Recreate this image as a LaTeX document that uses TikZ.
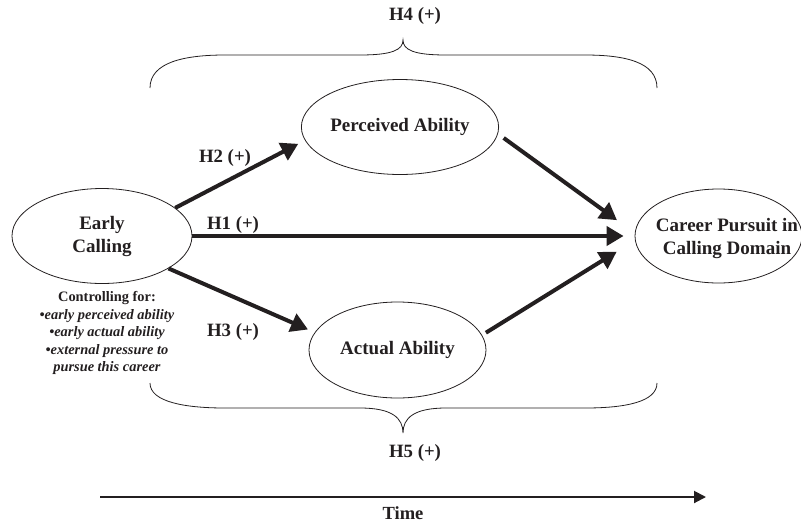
\documentclass[tikz,border=0pt]{standalone}
\usepackage{fontspec}
\setmainfont{Liberation Serif}
\usetikzlibrary{arrows.meta,shapes.geometric}
\definecolor{ink}{HTML}{231F20}
\begin{document}
\begin{tikzpicture}[x=1pt,y=-1pt,
  var/.style={draw=ink, ellipse, line width=0.8pt, inner sep=0pt, align=center,
    font=\fontsize{19}{23}\selectfont\bfseries, text=ink},
  vartext/.style={inner sep=0pt, align=center, font=\fontsize{19}{23}\selectfont\bfseries, text=ink},
  hpath/.style={line width=4pt, draw=ink, -{Triangle[length=17pt,width=19pt]}},
  hyp/.style={font=\fontsize{18.8}{22}\selectfont\bfseries, text=ink, inner sep=0pt},
  brace/.style={draw=ink, line width=0.8pt}]
\useasboundingbox (0,0) rectangle (801,523);

% variables
\node[var, minimum width=180pt, minimum height=95pt] (early) at (102,236) {Early\\Calling};
\node[var, minimum width=176pt, minimum height=95pt] (perc) at (400,127) {Perceived Ability};
\node[var, minimum width=177pt, minimum height=96pt] (act) at (397.5,350) {Actual Ability};
\node[var, minimum width=167pt, minimum height=94pt] (career) at (718.5,236) {};
\node[vartext] (careertext) at (727,238.5) {Career Pursuit in\\Calling Domain};

% controls
\node[inner sep=0pt, align=center, text=ink, font=\fontsize{14.4}{17.5}\selectfont\bfseries] (ctrl) at (107,333)
  {Controlling for:\\\textit{•early perceived ability}\\\textit{•early actual ability}\\\textit{•external pressure to}\\\textit{pursue this career}};

% paths
\draw[hpath, shorten >=7.5pt] (early.21) -- (perc.188);
\draw[hpath, shorten >=11pt] (early.east) -- (career.west);
\draw[hpath, shorten >=7.3pt] (early.-26) -- (act.168);
\draw[hpath, shorten <=7pt, shorten >=22pt] (perc.-4) -- (career.178);
\draw[hpath, shorten <=4.5pt, shorten >=21.5pt] (act.10.6) -- (career.183.4);

% hypothesis labels
\node[hyp] (h2) at (225,158) {H2 (+)};
\node[hyp] (h1) at (233,225) {H1 (+)};
\node[hyp] (h3) at (233,332) {H3 (+)};
\node[hyp] (h4) at (415,16) {H4 (+)};
\node[hyp] (h5) at (415,453) {H5 (+)};

% braces
\draw[brace] (150,88) .. controls (150,62) and (185,55) .. (225,55) -- (360,55)
  .. controls (392,55) and (403,50) .. (403,40)
  .. controls (403,50) and (414,55) .. (446,55) -- (585,55)
  .. controls (625,55) and (657,62) .. (657,88);
\draw[brace] (150,383) .. controls (150,402) and (185,408) .. (225,408) -- (360,408)
  .. controls (392,408) and (403,418) .. (403,433)
  .. controls (403,418) and (414,408) .. (446,408) -- (585,408)
  .. controls (625,408) and (657,402) .. (657,383);

% time
\coordinate (t0) at (100,497);
\coordinate (t1) at (706,497);
\draw[line width=2pt, draw=ink, -{Triangle[length=12pt,width=12pt]}] (t0) -- (t1);
\node[inner sep=0pt, text=ink, font=\fontsize{18.5}{22}\selectfont\bfseries] (time) at (403,513) {Time};
\end{tikzpicture}
\end{document}
